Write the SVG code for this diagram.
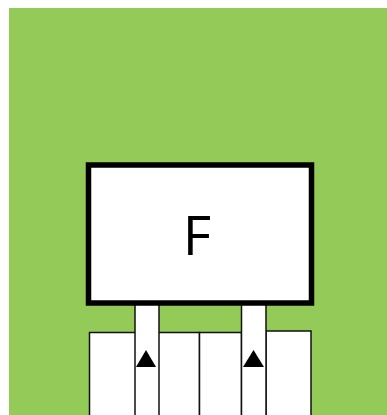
<svg xmlns="http://www.w3.org/2000/svg" width="387" height="415" viewBox="0 0 387 415">
<style>
.cell{fill:#fff;stroke:#111;stroke-width:1.5}
.arrow{fill:#000}
</style>
<rect width="387" height="415" fill="#fff"/>
<rect x="9" y="8" width="378" height="407" fill="#94cb58"/>
<g id="cells">
<rect class="cell" x="89.500" y="332.500" width="110" height="90"/>
<rect class="cell" x="199.500" y="332.500" width="42" height="90"/>
<rect class="cell" x="266" y="331" width="45" height="90"/>
</g>
<g id="connectors">
<rect class="cell" x="135" y="303" width="24" height="120"/>
<rect class="cell" x="241.500" y="303" width="24.500" height="120"/>
<path class="arrow" d="M146 350L156 367H136Z"/>
<path class="arrow" d="M253.500 350L264 367H243Z"/>
</g>
<g id="node-F">
<rect x="88.500" y="165" width="223" height="138" fill="#fff" stroke="#000" stroke-width="5.500"/>
<text x="197" y="255" font-family="'Open Sans',sans-serif" font-size="55" text-anchor="middle" fill="#000">F</text>
</g>
</svg>
